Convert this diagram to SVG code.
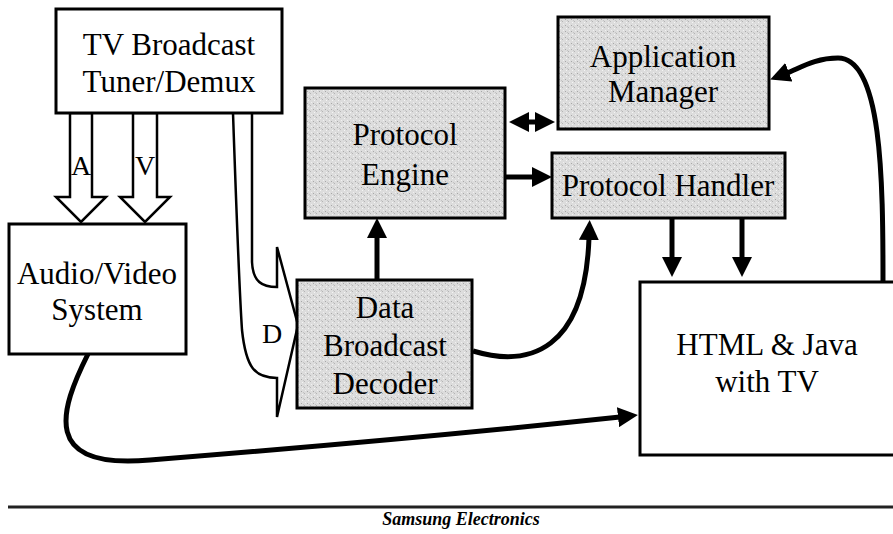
<svg xmlns="http://www.w3.org/2000/svg" width="893" height="534" viewBox="0 0 893 534">
<style>
.box{fill:#fff;stroke:#000;stroke-width:3}
.sh{fill:url(#stip);stroke:#000;stroke-width:3}
.t{font-family:"Liberation Serif","Times New Roman",serif;font-size:31px;fill:#000;text-anchor:middle}
.lbl{font-family:"Liberation Serif","Times New Roman",serif;font-size:28px;fill:#000;text-anchor:middle}
.blk{fill:#fff;stroke:#000;stroke-width:2.5;stroke-linejoin:miter}
.c{fill:none;stroke:#000;stroke-width:5}
.foot{font-family:"Liberation Serif","Times New Roman",serif;font-size:18px;font-weight:bold;font-style:italic;text-anchor:middle}
</style>
<defs>
<pattern id="stip" width="6" height="6" patternUnits="userSpaceOnUse">
<rect width="6" height="6" fill="#dcdcdc"/>
<rect x="1" y="1" width="1" height="1" fill="#a8a8a8"/>
<rect x="4" y="3" width="1" height="1" fill="#b4b4b4"/>
<rect x="2" y="4" width="1" height="1" fill="#f4f4f4"/>
<rect x="5" y="0" width="1" height="1" fill="#f0f0f0"/>
<rect x="3" y="2" width="1" height="1" fill="#c4c4c4"/>
</pattern>
<marker id="ah" viewBox="0 0 20 20" refX="2" refY="10" markerWidth="20" markerHeight="20" markerUnits="userSpaceOnUse" orient="auto-start-reverse">
<path d="M0,0 L20,10 L0,20 z" fill="#000"/>
</marker>
</defs>

<g id="connectors">
<polygon class="blk" points="70,113 92,113 92,197 106,197 81,222 56,197 70,197"/>
<polygon class="blk" points="133,113 157,113 157,197 170,197 145,222 120,197 133,197"/>
<path class="blk" d="M233,113 C236,200 240,300 242,330 C246,368 255,378 277,378 L277,417 L298,325 L277,247 L277,287 C262,287 253,282 252,262 L252,113"/>
<path class="c" d="M377,280 L377,236" marker-end="url(#ah)"/>
<path class="c" d="M505,177 L534,177" marker-end="url(#ah)"/>
<path class="c" d="M527,122 L537,122" marker-start="url(#ah)" marker-end="url(#ah)"/>
<path class="c" d="M473,351 C530,368 585,350 589,238" marker-end="url(#ah)"/>
<path class="c" d="M672,218 L672,259" marker-end="url(#ah)"/>
<path class="c" d="M742,218 L742,259" marker-end="url(#ah)"/>
<path class="c" d="M883,282 C883,180 882,58 838,58 C815,58 800,68 787,73" marker-end="url(#ah)"/>
<path class="c" d="M88,354 C60,410 40,470 150,460 C300,448 450,435 620,417" marker-end="url(#ah)"/>
</g>

<g id="label-A"><text class="lbl" x="81" y="175">A</text></g>
<g id="label-V"><text class="lbl" x="145" y="175">V</text></g>
<g id="label-D"><text class="lbl" x="272" y="343">D</text></g>

<g id="tuner">
<rect class="box" x="56" y="9" width="226" height="104"/>
<text class="t" x="169" y="55">TV Broadcast</text>
<text class="t" x="169" y="92">Tuner/Demux</text>
</g>

<g id="av-system">
<rect class="box" x="9" y="224" width="177" height="130"/>
<text class="t" x="97" y="284">Audio/Video</text>
<text class="t" x="97" y="320">System</text>
</g>

<g id="protocol-engine">
<rect class="sh" x="305" y="88" width="200" height="130"/>
<text class="t" x="405" y="145">Protocol</text>
<text class="t" x="405" y="185">Engine</text>
</g>

<g id="app-manager">
<rect class="sh" x="558" y="17" width="211" height="112"/>
<text class="t" x="663" y="67">Application</text>
<text class="t" x="663" y="102">Manager</text>
</g>

<g id="protocol-handler">
<rect class="sh" x="552" y="153" width="233" height="65"/>
<text class="t" x="668" y="196">Protocol Handler</text>
</g>

<g id="decoder">
<rect class="sh" x="297" y="280" width="175" height="128"/>
<text class="t" x="385" y="318">Data</text>
<text class="t" x="385" y="356">Broadcast</text>
<text class="t" x="385" y="394">Decoder</text>
</g>

<g id="html-java">
<rect class="box" x="640" y="282" width="260" height="173"/>
<text class="t" x="767" y="355">HTML &amp; Java</text>
<text class="t" x="767" y="392">with TV</text>
</g>

<g id="footer">
<line x1="8" y1="507" x2="893" y2="507" stroke="#222" stroke-width="3"/>
<text class="foot" x="461" y="525">Samsung Electronics</text>
</g>
</svg>
